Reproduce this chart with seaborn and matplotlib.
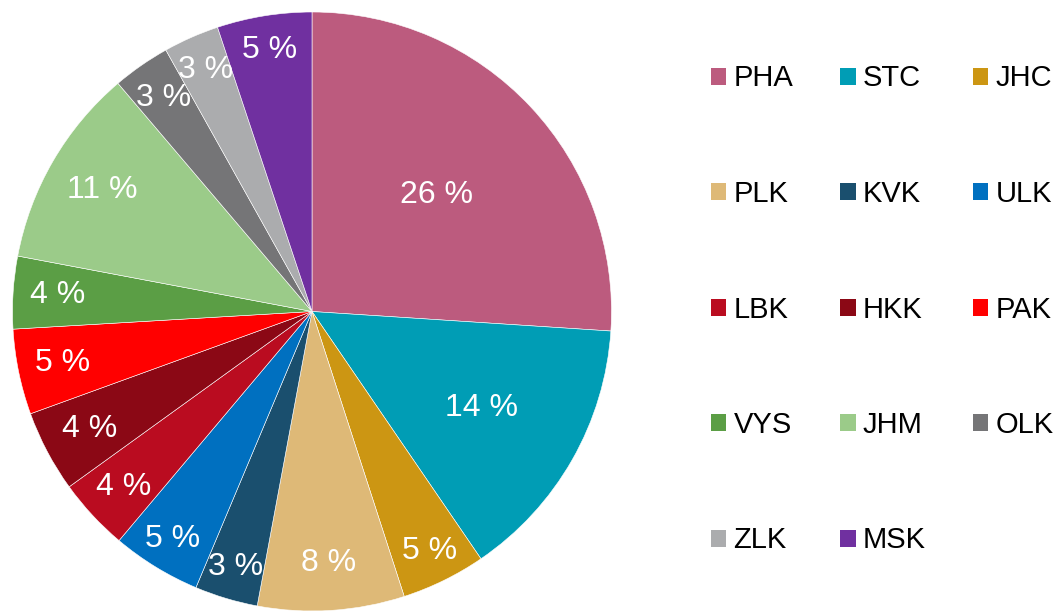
import numpy as np
import matplotlib
matplotlib.use("Agg")
import matplotlib.pyplot as plt
from matplotlib.patches import Patch
import seaborn as sns

# Regions and their shares (clockwise from 12 o'clock)
regions = ["PHA", "STC", "JHC", "PLK", "KVK", "ULK", "LBK",
           "HKK", "PAK", "VYS", "JHM", "OLK", "ZLK", "MSK"]
shares = [26.0, 14.4, 4.55, 7.9, 3.4, 4.8, 3.9,
          4.4, 4.6, 3.9, 10.8, 3.1, 3.0, 5.1]
colors = ["#BC5B7E", "#009DB5", "#CC9613", "#DEB977", "#1A4F6E", "#0070C0", "#BA0C20",
          "#8B0815", "#FF0000", "#5B9E45", "#9BCB89", "#757577", "#ABACAE", "#7030A0"]

# how far out each percentage label sits (fraction of radius)
label_dist = [0.57, 0.65, 0.89, 0.84, 0.89, 0.89, 0.86,
              0.84, 0.85, 0.85, 0.81, 0.87, 0.88, 0.885]

sns.set_style("white")
plt.rcParams["font.family"] = ["Liberation Sans", "DejaVu Sans"]

palette = sns.color_palette(colors)

fig = plt.figure(figsize=(10.6, 6.11), dpi=100)
ax = fig.add_axes([12.5 / 1060, 0.0, 599 / 1060, 599 / 611])

wedges, texts, autotexts = ax.pie(
    shares, colors=palette, startangle=90, counterclock=False,
    autopct="%.0f %%", textprops=dict(color="white", fontsize=23),
    wedgeprops=dict(edgecolor="white", linewidth=0.4),
)

# move labels out along each wedge's mid angle
for w, t, d in zip(wedges, autotexts, label_dist):
    mid = np.deg2rad((w.theta1 + w.theta2) / 2)
    t.set_position((d * np.cos(mid), d * np.sin(mid)))
    t.set_ha("center")
    t.set_va("center")

ax.set_xlim(-1, 1)
ax.set_ylim(-1, 1)
ax.set_aspect("equal")
ax.axis("off")

# legend laid out row by row, 3 per row
handles = [Patch(facecolor=c, edgecolor="none") for c in palette]
order = [0, 3, 6, 9, 12, 1, 4, 7, 10, 13, 2, 5, 8, 11]
fig.legend([handles[i] for i in order], [regions[i] for i in order],
           ncol=3, loc="upper left", bbox_to_anchor=(711 / 1060, 1 - 64.5 / 611),
           frameon=False, fontsize=21, labelcolor="black",
           handlelength=0.52, handleheight=0.52,
           handletextpad=0.25, labelspacing=3.0, columnspacing=1.62,
           borderpad=0, borderaxespad=0)

fig.savefig("out.png", dpi=100)
